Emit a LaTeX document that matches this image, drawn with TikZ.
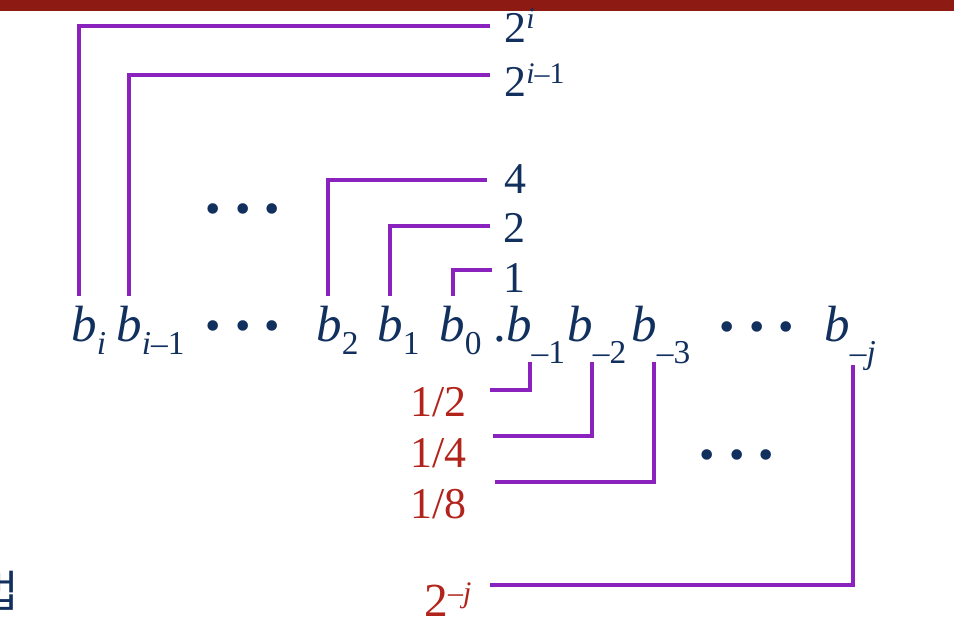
\documentclass[tikz,border=0pt]{standalone}
\usepackage{fontspec}
\setmainfont{Liberation Serif}
\newfontfamily\krfont{Noto Sans CJK KR}
\usetikzlibrary{positioning}
\definecolor{navy}{HTML}{12305E}
\definecolor{wine}{HTML}{B2231B}
\definecolor{barred}{HTML}{8E1B13}
\definecolor{wirepurple}{HTML}{8A22BE}
\newcommand{\lowidx}[1]{\raisebox{-0.26cm}{\fontsize{19}{19}\selectfont #1}}
\newcommand{\negidx}[1]{\raisebox{-0.44cm}{\fontsize{19}{19}\selectfont –#1}}
\newcommand{\upidx}[1]{\raisebox{0.28cm}{\fontsize{17}{17}\selectfont #1}}
\newcommand{\threedots}{•\hspace{0.32em}•\hspace{0.32em}•}

\begin{document}
\begin{tikzpicture}[x=0.02cm,y=-0.02cm,
    bit/.style={text=navy,inner sep=0,anchor=base west,font=\fontsize{29}{34}\selectfont},
    weight/.style={text=navy,inner sep=0,anchor=base west,font=\fontsize{25}{30}\selectfont},
    frac/.style={weight,text=wine},
    dots/.style={text=navy,inner sep=0,anchor=base,font=\fontsize{25}{30}\selectfont},
    wire/.style={wirepurple,line width=1.8pt}]
  \useasboundingbox (0,0) rectangle (954,628);
  \fill[barred] (0,0) rectangle (954,11);

  % the bits
  \node[bit] (bi)  at (71,342)  {\textit{b}\lowidx{\textit{i}}};
  \node[bit] (bim) at (116,342) {\textit{b}\lowidx{\textit{i}–1}};
  \node[bit] (b2)  at (316,342) {\textit{b}\lowidx{2}};
  \node[bit] (b1)  at (377,342) {\textit{b}\lowidx{1}};
  \node[bit] (b0)  at (439,342) {\textit{b}\lowidx{0}};
  \node[bit] (bm1) at (493,342) {.\textit{b}\negidx{1}};
  \node[bit] (bm2) at (567,342) {\textit{b}\negidx{2}};
  \node[bit] (bm3) at (631,342) {\textit{b}\negidx{3}};
  \node[bit] (bmj) at (824,342) {\textit{b}\negidx{\textit{j}}};
  \node[dots] (dmid) at (243,341) {\threedots};
  \node[dots] (dfrac) at (757,342) {\threedots};
  \node[dots] (dtop) at (243,224) {\threedots};
  \node[dots] (dlow) at (737,469) {\threedots};

  % weights
  \node[weight] (wi)  at (504,43)  {2\upidx{\textit{i}}};
  \node[weight] (wim) at (504,97)  {2\upidx{\textit{i}–1}};
  \node[weight] (w4)  at (504,194) {4};
  \node[weight] (w2)  at (503,243) {2};
  \node[weight] (w1)  at (503,293) {1};
  \node[frac] (fh) at (410,417) {1/2};
  \node[frac] (fq) at (410,467) {1/4};
  \node[frac] (fe) at (410,518) {1/8};
  \node[frac,font=\fontsize{27}{30}\selectfont] (fj) at (424,616) {2\upidx{–\textit{j}}};

  \coordinate (ti)  at (490,26);
  \coordinate (tim) at (490,75);
  \coordinate (t4)  at (487,180);
  \coordinate (t2)  at (490,226);
  \coordinate (t1)  at (492,270);
  \coordinate (th)  at (490,390);
  \coordinate (tq)  at (493,436);
  \coordinate (te)  at (495,482);
  \coordinate (tj)  at (490,585);

  \draw[wire] ([xshift=0.16cm,yshift=0.2cm]bi.north west) |- (ti);
  \draw[wire] ([xshift=0.26cm,yshift=0.2cm]bim.north west) |- (tim);
  \draw[wire] ([xshift=0.24cm,yshift=0.2cm]b2.north west) |- (t4);
  \draw[wire] ([xshift=0.26cm,yshift=0.2cm]b1.north west) |- (t2);
  \draw[wire] ([xshift=0.28cm,yshift=0.2cm]b0.north west) |- (t1);
  \draw[wire] ([xshift=0.74cm,yshift=-0.4cm]bm1.base west) |- (th);
  \draw[wire] ([xshift=0.5cm,yshift=-0.4cm]bm2.base west) |- (tq);
  \draw[wire] ([xshift=0.46cm,yshift=-0.4cm]bm3.base west) |- (te);
  \draw[wire] ([xshift=0.58cm,yshift=-0.46cm]bmj.base west) |- (tj);

  \node[text=navy,anchor=base west,inner sep=0,font=\krfont\fontsize{25}{30}\selectfont] (kr) at (-22,607) {법};
\end{tikzpicture}
\end{document}
